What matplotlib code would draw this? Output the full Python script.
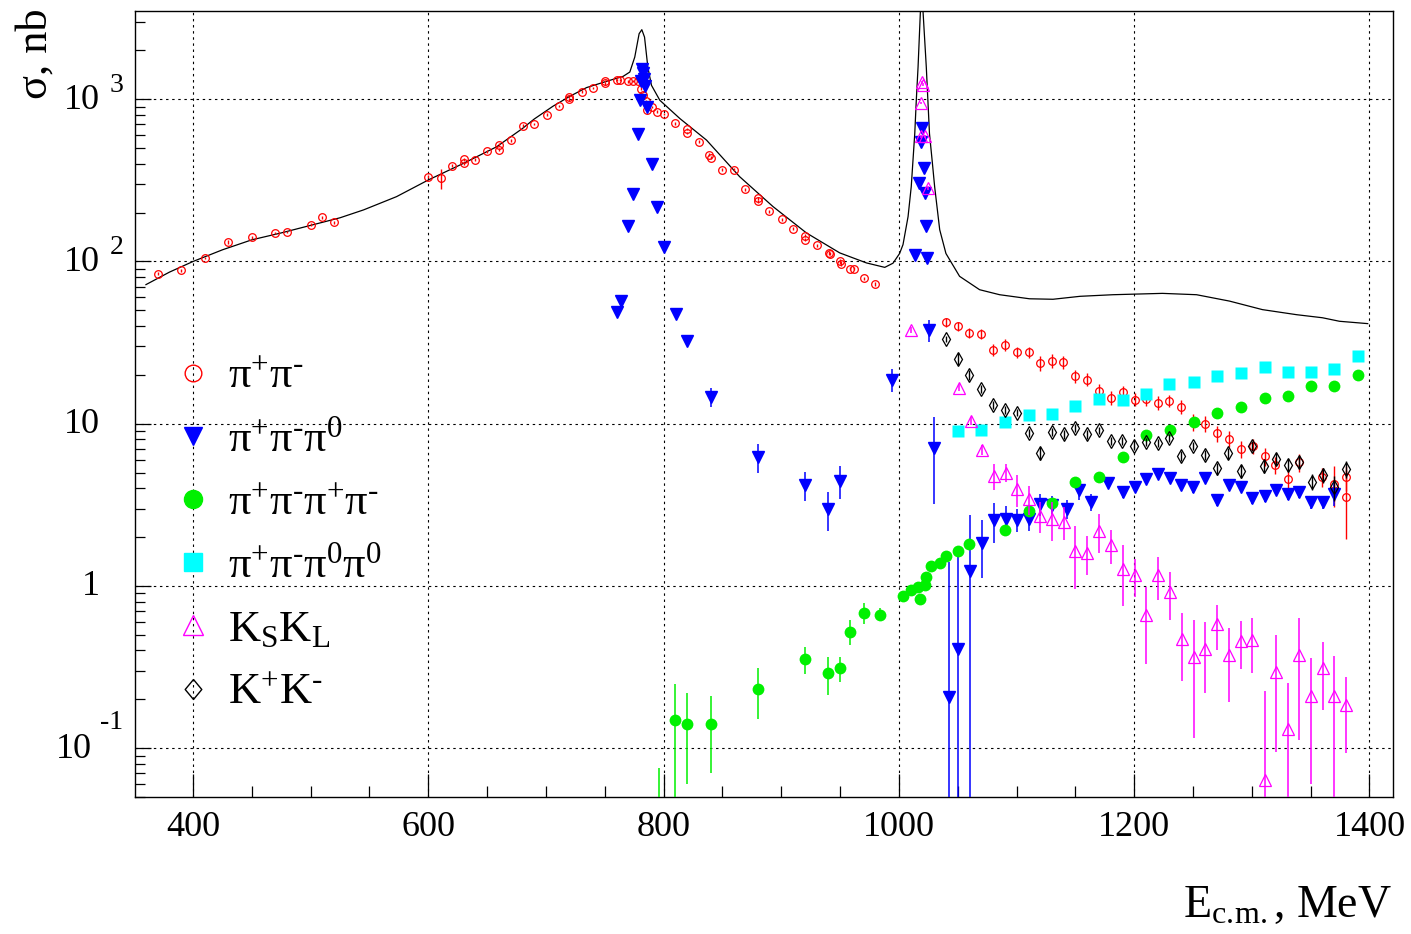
import numpy as np
import matplotlib
matplotlib.use("Agg")
import matplotlib.pyplot as plt
from matplotlib.lines import Line2D
from matplotlib.ticker import MultipleLocator, LogLocator, NullFormatter
from matplotlib.transforms import offset_copy

plt.rcParams['font.family'] = ['Liberation Serif', 'DejaVu Serif']
plt.rcParams['mathtext.fontset'] = 'custom'
plt.rcParams['mathtext.rm'] = 'Liberation Serif'
plt.rcParams['mathtext.it'] = 'Liberation Serif:italic'
plt.rcParams['mathtext.bf'] = 'Liberation Serif:bold'

# total cross section (model curve)
curve_e = [360, 380, 400, 425, 450, 475, 500, 525, 545, 573, 600, 630, 658, 680, 690,
           706, 720, 734.5, 751.5, 765.6, 771.3, 775.5, 779.2, 781.5, 783.8, 786.6,
           789.7, 796.8, 813.8, 836.5, 864.7, 893, 921.4, 949.7, 972.4, 988, 995,
           1000.6, 1003.5, 1007.8, 1010.5, 1012, 1013.5, 1014.8, 1016.3, 1018.3,
           1019.5, 1020.5, 1023.3, 1026, 1028.5, 1030.4, 1034.7, 1040, 1051.6,
           1068.6, 1085.6, 1111, 1131, 1154, 1182, 1224, 1253, 1281, 1309, 1338,
           1360, 1374.5, 1398.5]
curve_s = [72, 86, 100, 118, 136, 150, 167, 186, 208, 251, 318, 403, 509, 660, 755,
           906, 1040, 1180, 1290, 1384, 1472, 1820, 2536, 2685, 2416, 1580,
           1219, 986, 761, 560, 333, 218, 150, 113, 98, 92, 97.6,
           112, 127, 189, 289, 422, 615, 986, 1580, 3500,
           5000, 3500, 1580, 615, 403, 289, 157, 112, 81,
           67, 62.4, 58.9, 58.5, 61, 62.4, 63.6, 62.4, 57, 50.5, 47,
           45, 42.8, 41.4]

# pi+ pi-
pipi_e = [370, 390, 410.5, 430, 450, 470, 480, 500, 510, 520,
          600, 611, 620, 630, 630, 640, 650, 660, 660, 670,
          680.6, 690, 700.5, 711, 720, 720, 730.8, 740, 750, 750,
          760, 763, 770, 774, 778, 781, 782.6, 785, 786, 790.5,
          794, 800, 810, 820, 820, 830, 839, 840, 849.5, 860,
          869.5, 880, 880, 889.6, 900.7, 910, 920, 920, 930, 940.6,
          941.5, 950, 950.5, 958.8, 962, 970, 980,
          1040.3, 1050.2, 1060, 1070, 1080, 1090, 1100.4, 1110.6, 1120.3, 1130,
          1139.4, 1150, 1159.8, 1169.8, 1180, 1190.4, 1200.3, 1210, 1220, 1230,
          1240, 1250, 1260, 1270.3, 1280.4, 1290.4, 1300.8, 1310.8, 1320, 1330.5,
          1340.5, 1360, 1370.2, 1380, 1380]
pipi_s = [84, 88.5, 105, 132, 141, 150, 152, 169, 188, 174,
          333, 326, 389, 427, 403, 424, 479, 526, 490, 557,
          687, 705, 805, 910, 1033, 998, 1115, 1174, 1290, 1254,
          1309, 1309, 1290, 1300, 1300, 1163, 1058, 975, 864, 896,
          840, 812, 709, 654, 620, 547, 455, 436, 368, 368,
          278, 245, 236, 204, 182, 159, 144, 136, 126, 113,
          112, 100, 97, 90, 90, 78.7, 73,
          42.2, 39.9, 36.3, 35.9, 28.6, 30.7, 27.6, 27.6, 23.7, 24.5,
          24, 19.6, 18.7, 15.9, 14.5, 15.7, 14.1, 14.2, 13.5, 13.9,
          12.7, 10.2, 10.0, 8.73, 8.1, 6.97, 7.3, 6.3, 5.57, 4.55,
          5.77, 4.7, 4.25, 4.67, 3.55]
pipi_err = [2, 2, 2, 3, 3, 3, 3, 4, 4, 4,
            8, 45, 9, 9, 9, 9, 10, 11, 11, 11,
            13, 13, 15, 16, 18, 18, 19, 20, 21, 21,
            22, 22, 22, 22, 22, 20, 19, 18, 16, 16,
            15, 14, 13, 12, 12, 10, 9, 9, 7, 7,
            6, 5, 5, 4, 4, 3, 3, 3, 3, 3,
            3, 3, 3, 2, 2, 2, 2,
            2.5, 2.5, 2.5, 2.5, 2.5, 2.5, 2.3, 2.3, 2.5, 2.3,
            2.2, 1.8, 1.7, 1.6, 1.5, 1.5, 1.3, 1.3, 1.3, 1.2,
            1.3, 1.2, 1.1, 1.0, 0.9, 0.8, 0.8, 0.8, 0.7, 0.7,
            0.7, 0.6, 1.2, 0.8, 1.6]

# pi+ pi- pi0
pi3_e = [760, 764, 770, 774, 778, 780, 781, 782, 782.6, 783,
         784, 786, 790, 794, 800, 810.3, 820, 840.7, 880.6, 920,
         940, 950, 994, 1013.5, 1017, 1018.5, 1020, 1021, 1022, 1023,
         1023.5, 1025.5, 1029.5, 1042.4, 1050.5, 1060.5, 1070.6, 1080.8, 1090.7, 1100.4,
         1110.6, 1120.3, 1130.4, 1143, 1153, 1163, 1178, 1190.4, 1200.4, 1210.3,
         1220, 1230.3, 1240, 1250, 1260.2, 1270.6, 1280.4, 1290.4, 1300.2, 1310.8,
         1320.7, 1330.5, 1340.5, 1350.7, 1360.4, 1370.2]
pi3_s = [48.5, 57, 166, 261, 615, 996, 1300, 1545, 1450, 1340,
         1200, 897, 399, 218, 122, 47.3, 32.2, 14.7, 6.25, 4.19,
         2.97, 4.45, 18.6, 110, 303, 547, 667, 375, 263, 166,
         105, 37.7, 7.1, 0.207, 0.41, 1.23, 1.84, 2.54, 2.6, 2.56,
         2.58, 3.18, 3.17, 2.98, 3.9, 3.3, 4.3, 3.77, 4.08, 4.55,
         4.89, 4.6, 4.18, 4.05, 4.6, 3.4, 4.18, 4.08, 3.5, 3.6,
         3.92, 3.7, 3.8, 3.3, 3.3, 3.7]
pi3_err = [2, 2, 5, 8, 15, 20, 25, 30, 30, 28,
           25, 20, 10, 6, 4, 2.5, 2, 2, 1.3, 0.85,
           0.8, 1.0, 3, 6, 10, 15, 18, 10, 8, 6,
           5, 6, 3.9, 1.2, 1.3, 1.5, 0.72, 0.7, 0.5, 0.4,
           0.4, 0.5, 0.4, 0.4, 0.5, 0.4, 0.3, 0.3, 0.3, 0.3,
           0.3, 0.3, 0.3, 0.3, 0.3, 0.3, 0.3, 0.3, 0.3, 0.3,
           0.3, 0.3, 0.3, 0.3, 0.3, 0.6]

# pi+ pi- pi+ pi-
pi4c_e = [796, 810, 820, 840.7, 880.6, 920, 940, 950, 958.5, 970,
          984, 1003.5, 1010.6, 1016.3, 1017.6, 1022, 1023.3, 1027.5, 1034.7, 1040.3,
          1050.2, 1060, 1090.6, 1110.6, 1130, 1150, 1170, 1190.4, 1210.3, 1230.3,
          1250.5, 1270.6, 1290.4, 1310.8, 1330.5, 1350.3, 1370.2, 1390]
pi4c_s = [0.03, 0.15, 0.14, 0.14, 0.232, 0.353, 0.289, 0.31, 0.523, 0.682,
          0.666, 0.865, 0.95, 0.98, 0.83, 1.02, 1.13, 1.32, 1.39, 1.52,
          1.64, 1.82, 2.22, 2.9, 3.23, 4.35, 4.67, 6.2, 8.5, 9.1,
          10.2, 11.7, 12.7, 14.4, 14.8, 17.2, 17.2, 20]
pi4c_err = [0.045, 0.1, 0.08, 0.07, 0.08, 0.065, 0.075, 0.055, 0.09, 0.1,
            0.06, 0.03, 0.03, 0.03, 0.03, 0.03, 0.03, 0.04, 0.04, 0.05,
            0.05, 0.05, 0.06, 0.08, 0.08, 0.1, 0.1, 0.15, 0.2, 0.2,
            0.25, 0.3, 0.3, 0.3, 0.3, 0.4, 0.4, 0.4]

# pi+ pi- pi0 pi0
pi4n_e = [1050.2, 1070, 1090, 1110.6, 1130, 1150, 1170, 1190.4, 1210.3, 1230,
          1250.5, 1270.6, 1290.4, 1310.8, 1330.5, 1350.3, 1370.2, 1390]
pi4n_s = [9.0, 9.1, 10.2, 11.3, 11.5, 12.9, 14.3, 14.0, 15.3, 17.6,
          18.2, 19.6, 20.4, 22.4, 20.7, 20.7, 21.6, 26.1]
pi4n_err = [0.5, 0.5, 0.5, 0.5, 0.5, 0.6, 0.6, 0.6, 0.7, 0.7,
            0.8, 0.8, 0.8, 0.9, 0.9, 0.9, 1.0, 1.0]

# KS KL
kskl_e = [1010.6, 1018.5, 1019, 1020, 1020.5, 1022, 1025, 1051, 1061, 1070.6,
          1080.5, 1090.7, 1100.4, 1110.6, 1120.3, 1130, 1140, 1150, 1160, 1170,
          1180.2, 1190.4, 1200.3, 1210.3, 1220.5, 1230.3, 1240.5, 1250.5, 1260.2, 1270.6,
          1280.4, 1290.4, 1300.2, 1310.8, 1320.7, 1330.5, 1340.5, 1350.7, 1360.4, 1370.2,
          1380]
kskl_s = [37.7, 593, 949, 1277, 1230, 593, 283, 16.7, 10.4, 6.9,
          4.77, 5.0, 3.95, 3.43, 2.71, 2.58, 2.49, 1.65, 1.6, 2.19,
          1.79, 1.27, 1.16, 0.66, 1.16, 0.92, 0.47, 0.365, 0.41, 0.58,
          0.373, 0.456, 0.462, 0.064, 0.295, 0.132, 0.373, 0.21, 0.313, 0.21,
          0.184]
kskl_err = [1.5, 12, 18, 25, 25, 12, 8, 0.8, 0.6, 0.5,
            0.85, 0.65, 0.9, 0.7, 0.58, 0.7, 0.57, 0.69, 0.44, 0.6,
            0.43, 0.52, 0.31, 0.33, 0.34, 0.3, 0.21, 0.25, 0.19, 0.18,
            0.18, 0.15, 0.17, 0.16, 0.2, 0.12, 0.26, 0.15, 0.14, 0.16,
            0.09]

# K+ K-
kk_e = [1040.3, 1050.2, 1060, 1070, 1080, 1090, 1100, 1110.6, 1120.3, 1130,
        1140, 1150, 1160, 1170, 1180, 1190, 1199.8, 1210.3, 1220, 1230,
        1240, 1250, 1260.2, 1270.3, 1280, 1290.4, 1300.2, 1310.4, 1320.5, 1330.5,
        1340.5, 1351, 1360.4, 1370.2, 1380]
kk_s = [33.3, 25.1, 20.1, 16.4, 13.1, 12.1, 11.7, 8.8, 6.6, 8.9,
        8.6, 9.4, 8.6, 9.1, 7.8, 7.8, 7.3, 7.7, 7.6, 8.2,
        6.3, 7.3, 6.4, 5.3, 6.6, 5.1, 7.3, 5.5, 6.1, 5.6,
        5.8, 4.4, 4.8, 4.05, 5.25]
kk_err = [1.5, 2.0, 1.4, 1.0, 0.8, 0.7, 0.6, 0.5, 0.6, 0.5,
          0.5, 0.5, 0.5, 0.5, 0.45, 0.45, 0.45, 0.45, 0.45, 0.5,
          0.45, 0.45, 0.45, 0.45, 0.5, 0.45, 0.5, 0.5, 0.5, 0.5,
          0.5, 0.5, 0.5, 0.7, 0.6]

yticks = [0.1, 1, 10, 100, 1000]
ytick_base = ['10', '1', '10', '10', '10']
ytick_exp = ['-1', '', '', '2', '3']

# short hyphen for the charge superscripts
HY = '\u2010'
labels = ['π$^{+}$π$^{%s}$' % HY,
          'π$^{+}$π$^{%s}$π$^{0}$' % HY,
          'π$^{+}$π$^{%s}$π$^{+}$π$^{%s}$' % (HY, HY),
          'π$^{+}$π$^{%s}$π$^{0}$π$^{0}$' % HY,
          'K$_{\\mathrm{S}}$K$_{\\mathrm{L}}$',
          'K$^{+}$K$^{%s}$' % HY]

W, H = 1411, 934
fig = plt.figure(figsize=(W / 100, H / 100), dpi=100)
ax = fig.add_axes([135 / W, 1 - 797 / H, (1393 - 135) / W, (797 - 11) / H])
ax.set_yscale('log')


def points(e, s, err, **kw):
    s = np.asarray(s, float)
    err = np.asarray(err, float)
    lo = np.minimum(err, s - 1e-4)
    ax.errorbar(e, s, yerr=[lo, err], ls='none', capsize=0, **kw)


GREEN = '#00f000'
ax.plot(curve_e, curve_s, color='k', lw=0.9, zorder=2)
points(pipi_e, pipi_s, pipi_err, marker='o', ms=5.5, mfc='none', mec='red', mew=0.9,
       ecolor='red', elinewidth=1.0, zorder=3)
points(pi3_e, pi3_s, pi3_err, marker='v', ms=8, color='blue', mec='blue',
       elinewidth=1.1, zorder=4)
points(pi4c_e, pi4c_s, pi4c_err, marker='o', ms=8.5, color=GREEN, mec='none',
       elinewidth=1.1, zorder=4)
points(pi4n_e, pi4n_s, pi4n_err, marker='s', ms=9, color='cyan', mec='none',
       elinewidth=1.1, zorder=4)
points(kskl_e, kskl_s, kskl_err, marker='^', ms=9, mfc='none', mec='magenta', mew=0.9,
       ecolor='magenta', elinewidth=1.1, zorder=5)
points(kk_e, kk_s, kk_err, marker='d', ms=7, mfc='none', mec='k', mew=0.9,
       ecolor='k', elinewidth=1.0, zorder=5)

ax.set_xlim(350.7, 1420)
ax.set_ylim(0.05, 3500)

ax.xaxis.set_major_locator(MultipleLocator(200))
ax.xaxis.set_minor_locator(MultipleLocator(50))
ax.yaxis.set_major_locator(LogLocator(base=10, numticks=20))
ax.yaxis.set_minor_locator(LogLocator(base=10, subs=np.arange(2, 10), numticks=20))
ax.yaxis.set_major_formatter(NullFormatter())
ax.yaxis.set_minor_formatter(NullFormatter())
ax.tick_params(axis='x', which='both', direction='in', top=False, bottom=True,
               labelsize=26, pad=10, width=0.9)
ax.tick_params(axis='x', which='major', length=16.5)
ax.tick_params(axis='x', which='minor', length=8)
ax.tick_params(axis='y', which='both', direction='in', left=True, right=False, width=0.9)
ax.tick_params(axis='y', which='major', length=11.5)
ax.tick_params(axis='y', which='minor', length=7)
for sp in ax.spines.values():
    sp.set_linewidth(1.0)

ax.grid(True, which='major', color='k', ls=(0, (2.2, 3.3)), lw=0.8)
ax.set_axisbelow(True)

# y tick labels in the 10^n style with a detached exponent
ytr = ax.get_yaxis_transform()
for v, b, ex in zip(yticks, ytick_base, ytick_exp):
    neg = ex.startswith('-')
    shift = -43 if neg else -35
    ax.text(0, v, b, fontsize=26, ha='right', va='center',
            transform=offset_copy(ytr, fig=fig, x=shift, y=-1, units='dots'))
    if ex:
        ax.text(0, v, ex, fontsize=20, ha='left', va='center',
                transform=offset_copy(ytr, fig=fig, x=shift + 8 if neg else -25,
                                      y=26 if neg else 14, units='dots'))

fig.text(36 / W, 1 - 8 / H, 'σ, nb', rotation=90, ha='center', va='top', fontsize=32)
fig.text(1392 / W, 1 - 917 / H, 'E$_{\\mathrm{c.\\!m.}}$, MeV', ha='right', va='baseline',
         fontsize=33)

kk_mark = [(0, 1), (0.83, 0), (0, -1), (-0.83, 0), (0, 1)]
handles = [
    Line2D([], [], ls='none', marker='o', ms=12, mfc='none', mec='red', mew=1.0),
    Line2D([], [], ls='none', marker='v', ms=13, color='blue'),
    Line2D([], [], ls='none', marker='o', ms=13, color=GREEN),
    Line2D([], [], ls='none', marker='s', ms=13.4, color='cyan'),
    Line2D([], [], ls='none', marker='^', ms=15, mfc='none', mec='magenta', mew=1.0),
    Line2D([], [], ls='none', marker=kk_mark, ms=14.4, mfc='none', mec='k', mew=1.0),
]
ax.legend(handles, labels, loc='upper left',
          bbox_to_anchor=((172 - 135) / 1258, (797 - 357) / 786),
          frameon=False, fontsize=32, handlelength=0.95, handletextpad=0.31,
          borderpad=0, borderaxespad=0, labelspacing=0.52)

fig.savefig('out.png', dpi=100)
